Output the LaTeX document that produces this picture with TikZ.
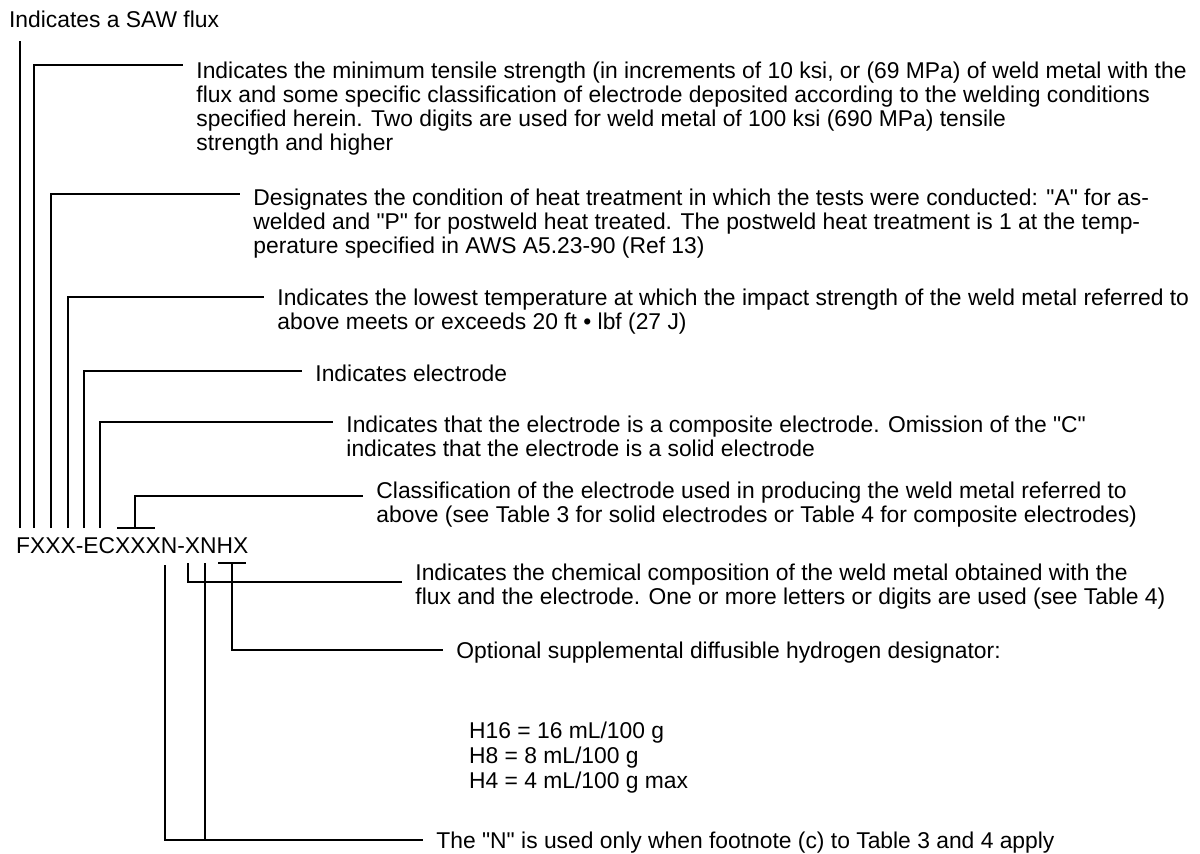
\documentclass[tikz,border=0pt]{standalone}
\usepackage{fontspec}
\setmainfont{Liberation Sans}

\begin{document}
\begin{tikzpicture}[x=0.02cm,y=-0.02cm,line width=1.3pt,
    desc/.style={anchor=north west,align=left,inner xsep=7pt,inner ysep=0pt,
      font=\fontsize{13}{13.6}\selectfont,execute at begin node=\strut}]
  \useasboundingbox (0,0) rectangle (1200,853);
  \node[anchor=base west,inner xsep=0pt,inner ysep=7pt,font=\fontsize{13}{13.6}\selectfont] (flux) at (8,27) {Indicates a SAW flux};
  \node[anchor=base west,inner sep=0pt,font=\fontsize{13}{13.6}\selectfont] (code) at (15,553) {FXXX-ECXXXN-XNHX};

  \coordinate (sF) at (20,528);
  \coordinate (sX1) at (34,528);
  \coordinate (sX2) at (51,528);
  \coordinate (sX3) at (68,528);
  \coordinate (sE) at (84,528);
  \coordinate (sC) at (100,528);
  \coordinate (sCls) at (135,528);
  \coordinate (sN1) at (165,565);
  \coordinate (sChem) at (188,563);
  \coordinate (sN2) at (205,563);
  \coordinate (sH) at (232,563);

  \node[desc] (tensile) at (183,61.2) {Indicates the minimum tensile strength (in increments of 10 ksi, or (69 MPa) of weld metal with the\\
    flux and some specific classification of electrode deposited according to the welding conditions\\
    specified herein. Two digits are used for weld metal of 100 ksi (690 MPa) tensile\\
    strength and higher};
  \node[desc] (heat) at (240,188.2) {Designates the condition of heat treatment in which the tests were conducted: \textquotedbl A\textquotedbl{} for as-\\
    welded and \textquotedbl P\textquotedbl{} for postweld heat treated. The postweld heat treatment is 1 at the temp-\\
    perature specified in AWS A5.23-90 (Ref 13)};
  \node[desc] (impact) at (264,288.2) {Indicates the lowest temperature at which the impact strength of the weld metal referred to\\
    above meets or exceeds 20 ft • lbf (27 J)};
  \node[desc] (electrode) at (302,363.2) {Indicates electrode};
  \node[desc] (composite) at (333,415.2) {Indicates that the electrode is a composite electrode. Omission of the \textquotedbl C\textquotedbl\\
    indicates that the electrode is a solid electrode};
  \node[desc] (classif) at (363,481.2) {Classification of the electrode used in producing the weld metal referred to\\
    above (see Table 3 for solid electrodes or Table 4 for composite electrodes)};
  \node[desc] (chem) at (402,563.2) {Indicates the chemical composition of the weld metal obtained with the\\
    flux and the electrode. One or more letters or digits are used (see Table 4)};
  \node[desc] (hydro) at (443,640.2) {Optional supplemental diffusible hydrogen designator:};
  \node[desc,inner xsep=0pt,font=\fontsize{13}{14.2}\selectfont] (hlist) at (468,720.5) {H16 = 16 mL/100 g\\
    H8 = 8 mL/100 g\\
    H4 = 4 mL/100 g max};
  \node[desc] (footn) at (423,830.2) {The \textquotedbl N\textquotedbl{} is used only when footnote (c) to Table 3 and 4 apply};

  \draw (sF) -- (sF |- flux.south);
  \draw (sX1) |- ([yshift=-2pt]tensile.north west);
  \draw (sX2) |- ([yshift=-3.5pt]heat.north west);
  \draw (sX3) |- ([yshift=-5pt]impact.north west);
  \draw (sE) |- ([yshift=-4.5pt]electrode.north west);
  \draw (sC) |- ([yshift=-4pt]composite.north west);
  \draw (117,528) -- (155,528);
  \draw (sCls) |- ([yshift=-8.5pt]classif.north west);
  \draw (sChem) |- ([yshift=-10.5pt]chem.north west);
  \draw (218,563) -- (246,563);
  \draw (sH) |- ([yshift=-5.5pt]hydro.north west);
  \draw (sN1) |- ([yshift=-5.5pt]footn.north west);
  \draw (sN2) |- ([yshift=-5.5pt]footn.north west);
\end{tikzpicture}
\end{document}
